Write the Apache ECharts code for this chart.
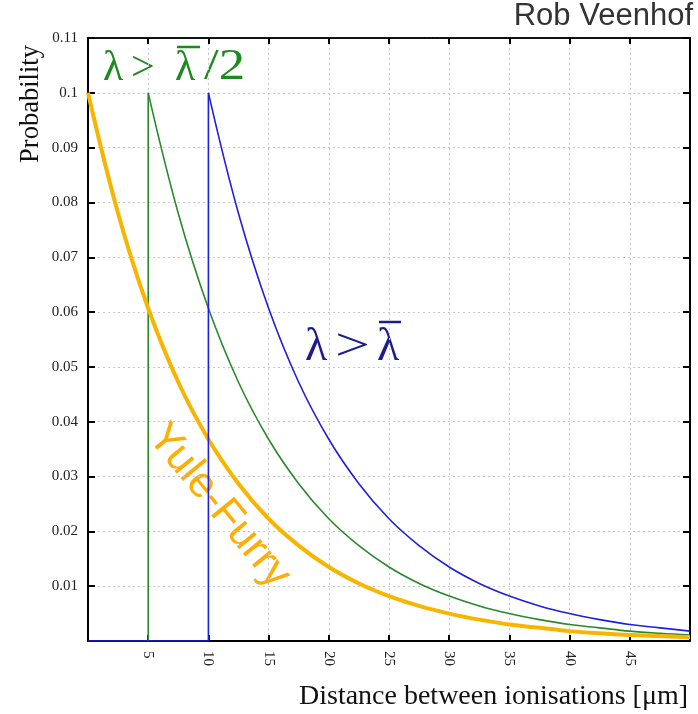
<!DOCTYPE html>
<html>
<head>
<meta charset="utf-8">
<script src="https://cdn.jsdelivr.net/npm/echarts@6/dist/echarts.min.js"></script>
<style>
  html, body { margin: 0; padding: 0; background: #fff; }
  #chart { width: 698px; height: 714px; }
</style>
</head>
<body>
<div id="chart"></div>
<script>
// Distance samples (μm) for the decaying parts of the curves
const yuleX = [0, 2.5, 5, 7.5, 10, 12.5, 15, 17.5, 20, 22.5, 25, 27.5, 30, 32.5, 35, 37.5, 40, 42.5, 45, 47.5, 50];
const yuleY = [0.1, 0.078, 0.0607, 0.0472, 0.0368, 0.0287, 0.0223, 0.0174, 0.0135, 0.0105, 0.0082, 0.0064, 0.005, 0.0039, 0.003, 0.0024, 0.0018, 0.0014, 0.0011, 0.0009, 0.0007];

const halfX = [5, 7.5, 10, 12.5, 15, 17.5, 20, 22.5, 25, 27.5, 30, 32.5, 35, 37.5, 40, 42.5, 45, 47.5, 50];
const halfY = [0.1, 0.078, 0.0607, 0.0472, 0.0368, 0.0287, 0.0223, 0.0174, 0.0135, 0.0105, 0.0082, 0.0064, 0.005, 0.0039, 0.003, 0.0024, 0.0018, 0.0014, 0.0011];
const halfStem = [[5, 0], [5, 0.1]];

const fullX = [10, 12.5, 15, 17.5, 20, 22.5, 25, 27.5, 30, 32.5, 35, 37.5, 40, 42.5, 45, 47.5, 50];
const fullY = [0.1, 0.078, 0.0607, 0.0472, 0.0368, 0.0287, 0.0223, 0.0174, 0.0135, 0.0105, 0.0082, 0.0064, 0.005, 0.0039, 0.003, 0.0024, 0.0018];
const fullStem = [[0, 0], [10, 0], [10, 0.1]];

const xTicks = [5, 10, 15, 20, 25, 30, 35, 40, 45];
const yTicks = [0.01, 0.02, 0.03, 0.04, 0.05, 0.06, 0.07, 0.08, 0.09, 0.1, 0.11];

const zip = (xs, ys) => xs.map((x, i) => [x, ys[i]]);

const serif = '"Liberation Serif", "DejaVu Serif", serif';
const sans = '"Liberation Sans", Arial, sans-serif';
const YELLOW = '#f7b500';
const GREEN = '#2a8a2a';
const BLUE = '#1f1fe0';
const LABEL_GREEN = '#1d8a1d';
const LABEL_BLUE = '#1c1c8c';

const chart = echarts.init(document.getElementById('chart'), null, { renderer: 'canvas' });

const gridLine = { show: true, lineStyle: { color: '#c8c8c8', type: [2, 3], width: 1 } };

// A text piece of the λ annotations (scaled about its own left edge)
const piece = (text, x, y, size, fill, sx) => ({
  type: 'text', x, y, scaleX: sx || 1,
  style: { text, font: size + 'px ' + serif, fill, align: 'left', verticalAlign: 'middle' }
});
// Overbar drawn above a λ
const bar = (x1, x2, y, stroke) => ({
  type: 'line', shape: { x1, y1: y, x2, y2: y },
  style: { stroke, lineWidth: 2.5 }
});

chart.setOption({
  animation: false,
  backgroundColor: '#ffffff',
  grid: { left: 88, right: 8, top: 38, bottom: 73, containLabel: false },
  xAxis: [
    {
      type: 'value', min: 0, max: 50, interval: 5, position: 'bottom',
      axisLine: { show: true, onZero: false, lineStyle: { color: '#000', width: 2 } },
      axisTick: { show: true, inside: true, length: 6, lineStyle: { color: '#000', width: 2 } },
      axisLabel: {
        rotate: -90, margin: 10, color: '#222', fontFamily: serif, fontSize: 15,
        formatter: v => xTicks.includes(v) ? String(v) : ''
      },
      splitLine: gridLine
    },
    {
      type: 'value', min: 0, max: 50, interval: 5, position: 'top',
      axisLine: { show: true, onZero: false, lineStyle: { color: '#111', width: 2, type: [3, 1] } },
      axisTick: { show: true, inside: true, length: 6, lineStyle: { color: '#000', width: 2 } },
      axisLabel: { show: false },
      splitLine: { show: false }
    }
  ],
  yAxis: [
    {
      type: 'value', min: 0, max: 0.11, interval: 0.01, position: 'left',
      axisLine: { show: true, onZero: false, lineStyle: { color: '#000', width: 2 } },
      axisTick: { show: true, inside: true, length: 7, lineStyle: { color: '#000', width: 2 } },
      axisLabel: {
        margin: 10, color: '#222', fontFamily: serif, fontSize: 15,
        formatter: v => {
          const r = +v.toFixed(2);
          return yTicks.includes(r) ? String(r) : '';
        }
      },
      splitLine: gridLine
    },
    {
      type: 'value', min: 0, max: 0.11, interval: 0.01, position: 'right',
      axisLine: { show: true, onZero: false, lineStyle: { color: '#000', width: 2 } },
      axisTick: { show: true, inside: true, length: 7, lineStyle: { color: '#000', width: 2 } },
      axisLabel: { show: false },
      splitLine: { show: false }
    }
  ],
  series: [
    {
      name: 'Yule-Furry', type: 'line', data: zip(yuleX, yuleY), smooth: 0.4,
      showSymbol: false, lineStyle: { color: YELLOW, width: 4 }, z: 3
    },
    {
      name: 'half stem', type: 'line', data: halfStem, showSymbol: false,
      lineStyle: { color: GREEN, width: 1.6 }, z: 2
    },
    {
      name: 'half decay', type: 'line', data: zip(halfX, halfY), smooth: 0.4,
      showSymbol: false, lineStyle: { color: GREEN, width: 1.6 }, z: 2
    },
    {
      name: 'full stem', type: 'line', data: fullStem, showSymbol: false,
      lineStyle: { color: BLUE, width: 1.6 }, z: 4
    },
    {
      name: 'full decay', type: 'line', data: zip(fullX, fullY), smooth: 0.4,
      showSymbol: false, lineStyle: { color: BLUE, width: 1.6 }, z: 4
    }
  ],
  graphic: [
    {
      type: 'text', right: 5, top: 1,
      style: { text: 'Rob Veenhof', font: '31px ' + sans, fill: '#333' }
    },
    {
      type: 'text', x: 31, y: 104, rotation: Math.PI / 2,
      style: { text: 'Probability', font: '26.5px ' + serif, fill: '#111', align: 'center', verticalAlign: 'middle' }
    },
    {
      type: 'text', x: 688, y: 697,
      style: { text: 'Distance between ionisations [μm]', font: '28px ' + serif, fill: '#111', align: 'right', verticalAlign: 'middle' }
    },
    // λ > λ̄/2
    piece('λ', 103, 69, 42, LABEL_GREEN),
    piece('>', 131, 69, 42, LABEL_GREEN),
    piece('λ', 175, 69, 42, LABEL_GREEN),
    piece('/2', 204, 67, 44, LABEL_GREEN, 1.2),
    bar(177, 200, 47, LABEL_GREEN),
    // λ > λ̄
    piece('λ', 305, 348, 46, LABEL_BLUE),
    piece('>', 335, 348, 46, LABEL_BLUE, 1.35),
    piece('λ', 377, 348, 46, LABEL_BLUE),
    bar(379, 401, 322, LABEL_BLUE),
    {
      type: 'text', x: 219, y: 506, rotation: -0.88,
      style: { text: 'Yule-Furry', font: '43px ' + sans, fill: '#ffad00', align: 'center', verticalAlign: 'middle' }
    }
  ]
});
</script>
</body>
</html>
